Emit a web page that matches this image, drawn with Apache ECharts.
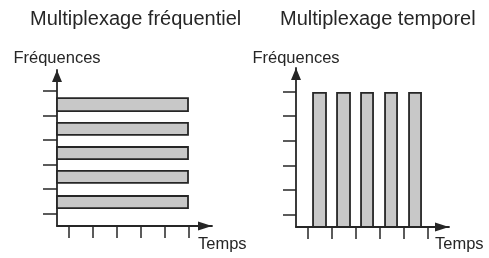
<!DOCTYPE html>
<html>
<head>
<meta charset="utf-8">
<script src="https://cdn.jsdelivr.net/npm/echarts@6/dist/echarts.min.js"></script>
<style>html,body{margin:0;padding:0;background:#fff;}#c{width:489px;height:258px;}</style>
</head>
<body>
<div id="c"></div>
<script>
// ---- data ----
const titles = ['Multiplexage fréquentiel', 'Multiplexage temporel'];
const yAxisName = 'Fréquences';
const xAxisName = 'Temps';
const tickValues = [0.5, 1.5, 2.5, 3.5, 4.5, 5.5];
// frequency multiplexing: five frequency bands occupying the whole time span
const freqBandLow  = [0.73, 1.75, 2.72, 3.70, 4.67];
const freqBandHigh = [1.22, 2.24, 3.21, 4.19, 5.20];
const freqBandTimeStart = 0;
const freqBandTimeEnd = 5.46;
// time multiplexing: five time slots occupying the whole frequency span
const timeSlotStart = [0.71, 1.71, 2.71, 3.71, 4.71];
const timeSlotEnd   = [1.25, 2.25, 3.21, 4.21, 5.21];
const timeSlotFreqLow = 0;
const timeSlotFreqHigh = 5.45;

// ---- build chart ----
const FONT = 'Liberation Sans, Arial, Helvetica, sans-serif';
const INK = '#262626';
const leftData = freqBandLow.map((lo, i) => [freqBandTimeStart, freqBandTimeEnd, lo, freqBandHigh[i]]);
const rightData = timeSlotStart.map((s, i) => [s, timeSlotEnd[i], timeSlotFreqLow, timeSlotFreqHigh]);

function renderRect(params, api) {
  const p0 = api.coord([api.value(0), api.value(3)]);
  const p1 = api.coord([api.value(1), api.value(2)]);
  return {
    type: 'rect',
    shape: { x: p0[0], y: p0[1], width: p1[0] - p0[0], height: p1[1] - p0[1] },
    style: { fill: '#c8c8c8', stroke: INK, lineWidth: 1.8 }
  };
}

function axis(opts, arrowSize) {
  return Object.assign({
    type: 'value', min: 0,
    axisLine: { show: true, onZero: false, symbol: ['none', 'triangle'], symbolSize: arrowSize, symbolOffset: [0, -arrowSize[1] / 2],
      lineStyle: { color: INK, width: 1.8 } },
    axisTick: { show: true, customValues: tickValues, length: 13, lineStyle: { color: INK, width: 1.5 } },
    axisLabel: { show: false },
    splitLine: { show: false },
    nameTextStyle: { fontFamily: FONT, fontSize: 16.5, color: INK }
  }, opts);
}

const chart = echarts.init(document.getElementById('c'), null, { renderer: 'canvas' });
chart.setOption({
  animation: false,
  backgroundColor: '#fff',
  title: [
    { text: titles[0], left: 30, top: 9, padding: 0, textStyle: { fontFamily: FONT, fontSize: 20, fontWeight: 'normal', color: INK } },
    { text: titles[1], left: 280, top: 9, padding: 0, textStyle: { fontFamily: FONT, fontSize: 20, fontWeight: 'normal', color: INK } }
  ],
  grid: [
    { left: 57, top: 70, width: 155, bottom: 32, outerBoundsMode: 'none', containLabel: false },
    { left: 296, top: 68, width: 153, bottom: 31, outerBoundsMode: 'none', containLabel: false }
  ],
  xAxis: [
    axis({ gridIndex: 0, max: 6.46, name: xAxisName, nameLocation: 'end', nameGap: -14,
      axisTick: { show: true, customValues: tickValues, length: 12, lineStyle: { color: INK, width: 1.5 } },
      nameTextStyle: { fontFamily: FONT, fontSize: 16.5, color: INK, align: 'left', verticalAlign: 'top', padding: [10, 0, 0, 0] } }, [9, 14]),
    axis({ gridIndex: 1, max: 6.375, name: xAxisName, nameLocation: 'end', nameGap: -14,
      axisTick: { show: true, customValues: tickValues, length: 12, lineStyle: { color: INK, width: 1.5 } },
      nameTextStyle: { fontFamily: FONT, fontSize: 16.5, color: INK, align: 'left', verticalAlign: 'top', padding: [9, 0, 0, 0] } }, [9, 14])
  ],
  yAxis: [
    axis({ gridIndex: 0, max: 6.34, name: yAxisName, nameLocation: 'end', nameGap: 3.5,
      axisTick: { show: true, customValues: tickValues, length: 14, lineStyle: { color: INK, width: 1.5 } } }, [10, 12]),
    axis({ gridIndex: 1, max: 6.46, name: yAxisName, nameLocation: 'end', nameGap: 1.5,
      axisTick: { show: true, customValues: tickValues, length: 13, lineStyle: { color: INK, width: 1.5 } } }, [10, 12])
  ],
  series: [
    { type: 'custom', xAxisIndex: 0, yAxisIndex: 0, renderItem: renderRect, encode: { x: [0, 1], y: [2, 3] }, data: leftData, clip: false },
    { type: 'custom', xAxisIndex: 1, yAxisIndex: 1, renderItem: renderRect, encode: { x: [0, 1], y: [2, 3] }, data: rightData, clip: false }
  ]
});
</script>
</body>
</html>
